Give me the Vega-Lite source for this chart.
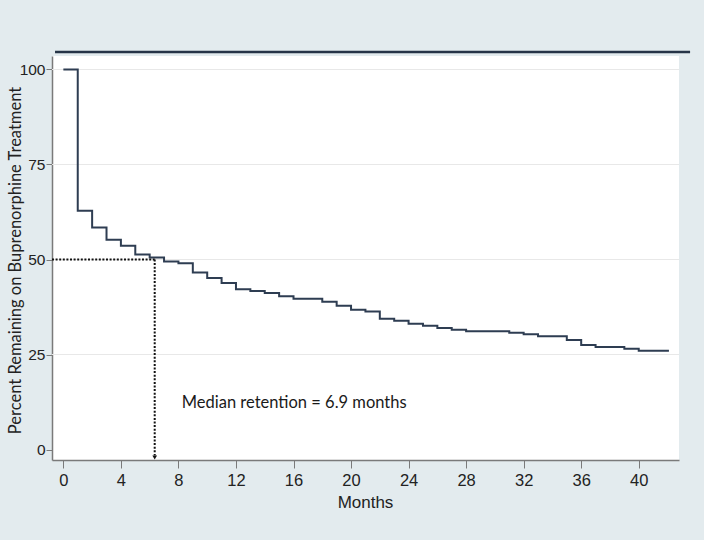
{
  "$schema": "https://vega.github.io/schema/vega-lite/v6.json",
  "autosize": {"type": "none"},
  "padding": {"left": 52, "top": 56, "right": 25, "bottom": 80},
  "width": 627,
  "height": 404,
  "background": "#e3ebee",
  "config": {
    "view": {"fill": "white", "stroke": null},
    "axis": {"labelFont": "Liberation Sans", "titleFont": "Liberation Sans", "labelColor": "#222222", "titleColor": "#222222", "titleFontWeight": "normal"}
  },
  "datasets": {
    "km": [
      {"month": 0, "pct": 100},
      {"month": 1, "pct": 62.8},
      {"month": 2, "pct": 58.4},
      {"month": 3, "pct": 55.2},
      {"month": 4, "pct": 53.6},
      {"month": 5, "pct": 51.3},
      {"month": 6, "pct": 50.5},
      {"month": 7, "pct": 49.5},
      {"month": 8, "pct": 49.0},
      {"month": 9, "pct": 46.6},
      {"month": 10, "pct": 45.1},
      {"month": 11, "pct": 43.8},
      {"month": 12, "pct": 42.2},
      {"month": 13, "pct": 41.7},
      {"month": 14, "pct": 41.2},
      {"month": 15, "pct": 40.3},
      {"month": 16, "pct": 39.7},
      {"month": 18, "pct": 38.9},
      {"month": 19, "pct": 37.8},
      {"month": 20, "pct": 36.8},
      {"month": 21, "pct": 36.3},
      {"month": 22, "pct": 34.4},
      {"month": 23, "pct": 33.9},
      {"month": 24, "pct": 33.1},
      {"month": 25, "pct": 32.6},
      {"month": 26, "pct": 32.0},
      {"month": 27, "pct": 31.5},
      {"month": 28, "pct": 31.1},
      {"month": 31, "pct": 30.7},
      {"month": 32, "pct": 30.3},
      {"month": 33, "pct": 29.8},
      {"month": 35, "pct": 28.8},
      {"month": 36, "pct": 27.5},
      {"month": 37, "pct": 27.0},
      {"month": 39, "pct": 26.5},
      {"month": 40, "pct": 26.0},
      {"month": 42.1, "pct": 26.0}
    ],
    "grid": [{"pct": 25}, {"pct": 50}, {"pct": 75}, {"pct": 100}],
    "medianH": [{"month": -0.79, "month2": 6.35, "pct": 50}],
    "medianV": [{"month": 6.35, "pct": 50, "pct2": -1.6}],
    "arrow": [{"month": 6.35, "pct": -2.1}],
    "note": [{"month": 8.23, "pct": 10.8, "label": "Median retention = 6.9 months"}],
    "topline": [{"month": -0.58, "month2": 43.57, "pct": 104.6}]
  },
  "layer": [
    {
      "data": {"name": "grid"},
      "mark": {"type": "rule", "color": "#e8e8e8", "strokeWidth": 1},
      "encoding": {
        "y": {"field": "pct", "type": "quantitative"}
      }
    },
    {
      "data": {"name": "km"},
      "mark": {"type": "line", "interpolate": "step-after", "color": "#2e3d52", "strokeWidth": 2},
      "encoding": {
        "x": {
          "field": "month", "type": "quantitative",
          "scale": {"domain": [-0.79, 42.8], "nice": false, "zero": false},
          "axis": {
            "values": [0, 4, 8, 12, 16, 20, 24, 28, 32, 36, 40],
            "grid": false,
            "domainColor": "#7a7a7a", "domainWidth": 1.5,
            "tickColor": "#7a7a7a", "tickSize": 8, "tickWidth": 1,
            "labelFontSize": 16.5, "labelPadding": 4,
            "title": "Months", "titleFontSize": 17,
            "titleX": 313, "titleY": 47, "titleBaseline": "alphabetic", "titleAnchor": null
          }
        },
        "y": {
          "field": "pct", "type": "quantitative",
          "scale": {"domain": [-2.76, 103.55], "nice": false, "zero": false},
          "axis": {
            "values": [0, 25, 50, 75, 100],
            "grid": false,
            "domainColor": "#7a7a7a", "domainWidth": 1.5,
            "tickColor": "#7a7a7a", "tickSize": 6, "tickWidth": 1,
            "labelFontSize": 15.5, "labelPadding": 1,
            "title": "Percent Remaining on Buprenorphine Treatment",
            "titleFont": "Lato", "titleFontSize": 16.5,
            "titleAngle": 270, "titleX": -32, "titleY": 204,
            "titleBaseline": "alphabetic", "titleAlign": "center", "titleAnchor": null
          }
        }
      }
    },
    {
      "data": {"name": "medianH"},
      "mark": {"type": "rule", "color": "#111111", "strokeWidth": 2, "strokeDash": [2, 1.6]},
      "encoding": {
        "x": {"field": "month", "type": "quantitative"},
        "x2": {"field": "month2"},
        "y": {"field": "pct", "type": "quantitative"}
      }
    },
    {
      "data": {"name": "medianV"},
      "mark": {"type": "rule", "color": "#111111", "strokeWidth": 2, "strokeDash": [2, 1.6]},
      "encoding": {
        "x": {"field": "month", "type": "quantitative"},
        "y": {"field": "pct", "type": "quantitative"},
        "y2": {"field": "pct2"}
      }
    },
    {
      "data": {"name": "arrow"},
      "mark": {"type": "point", "shape": "triangle-down", "filled": true, "color": "#111111", "size": 22, "opacity": 1},
      "encoding": {
        "x": {"field": "month", "type": "quantitative"},
        "y": {"field": "pct", "type": "quantitative"}
      }
    },
    {
      "data": {"name": "note"},
      "mark": {"type": "text", "align": "left", "baseline": "alphabetic", "font": "Lato", "fontSize": 16.5, "color": "#1a1a1a"},
      "encoding": {
        "x": {"field": "month", "type": "quantitative"},
        "y": {"field": "pct", "type": "quantitative"},
        "text": {"field": "label"}
      }
    },
    {
      "data": {"name": "topline"},
      "mark": {"type": "rule", "clip": false, "color": "#263447", "strokeWidth": 2.5},
      "encoding": {
        "x": {"field": "month", "type": "quantitative"},
        "x2": {"field": "month2"},
        "y": {"field": "pct", "type": "quantitative"}
      }
    }
  ]
}
